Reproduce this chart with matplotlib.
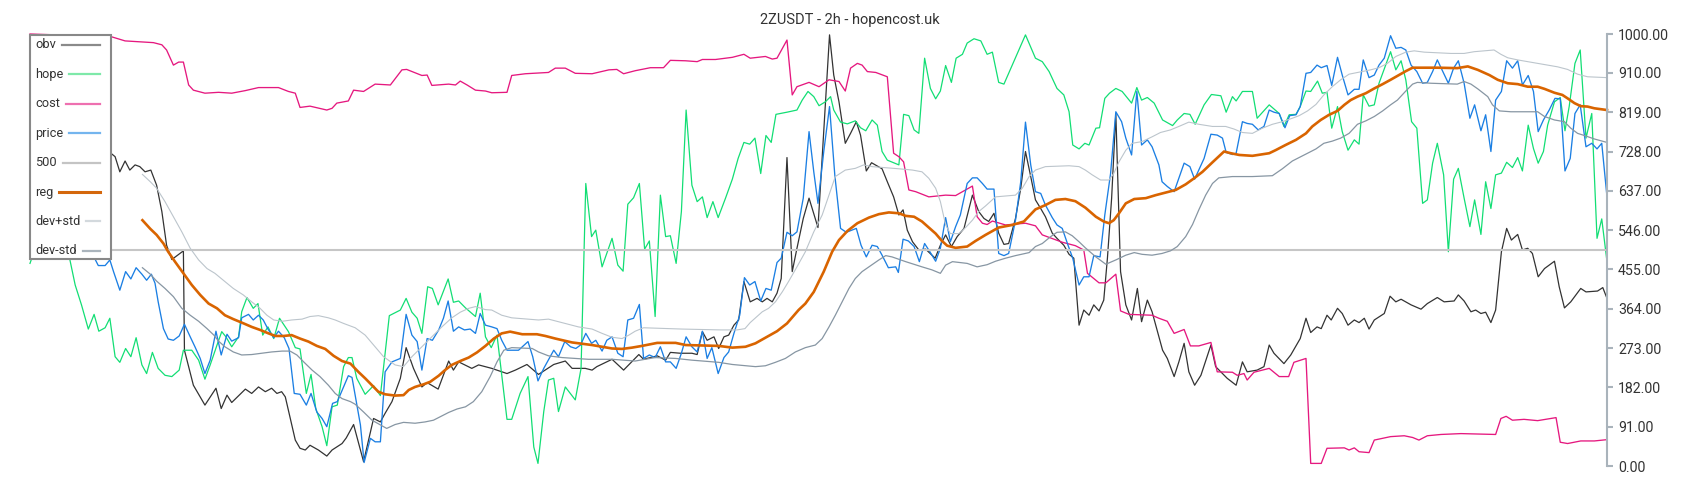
import matplotlib
matplotlib.use("Agg")
import matplotlib.pyplot as plt
from matplotlib.lines import Line2D
from matplotlib.patches import Rectangle

plt.rcParams['font.family'] = ['Roboto', 'DejaVu Sans']

# series as (bar index, normalised value 0..1000)
cost_pts = [(0,1000),(5,998),(10,997),(15.4,994),(18.1,984),(20.9,982),(23.5,980),(25.1,975),(26,963),(27.3,928),(28.3,935),(29.2,935),(30.2,882),(31.1,870),(33.3,863),(35.9,865),(38.4,863),(41,869),(43.5,876),(47.3,876),(49.2,867),(50.5,863),(51.4,830),(53.3,833),(56.5,824),(57.5,828),(58.4,840),(60.6,845),(61.6,870),(63.5,867),(65.7,884),(68.6,882),(70.8,917),(71.7,918),(74.6,904),(75.6,905),(76.5,881),(79.7,884),(81,882),(81.9,891),(83.2,882),(84.8,870),(86.7,868),(87.9,864),(90.8,865),(91.7,904),(94.3,908),(98.7,911),(100,921),(101.9,921),(103.8,909),(107,908),(110.2,917),(111.7,918),(113,908),(115.2,915),(118.1,922),(120.6,922),(121.9,939),(124.8,938),(127,936),(128,941),(130.5,941),(133.7,946),(135.9,953),(137.1,944),(140,948),(141.3,942),(142.2,944),(144.1,986),(145.1,859),(146,878),(148.3,888),(150.2,878),(152.1,894),(154,890),(155.2,868),(156.2,921),(157.5,932),(158.4,928),(159.4,913),(161,911),(163.2,901),(164.4,724),(165.4,716),(166.3,704),(167.3,639),(168.6,635),(171.1,623),(174.3,627),(176.2,626),(178.1,639),(179.4,648),(180.3,577),(181.3,562),(182.2,559),(183.2,567),(185.7,558),(189.5,562),(191.4,556),(192.7,535),(196.5,518),(199,510),(200.6,500),(201.3,446),(203.5,424),(204.8,424),(206.7,444),(207.6,359),(209.2,351),(213.6,349),(214.9,342),(216.5,335),(217.8,307),(219.7,316),(220.9,278),(222.5,278),(224.8,286),(226,218),(228.9,217),(229.8,210),(231.1,214),(231.7,199),(233,217),(235.9,226),(237.8,207),(239.6,207),(240.6,240),(242.9,249),(243.8,6),(245.8,6),(246.9,41),(250.2,42),(251.1,37),(252.1,42),(253,33),(254.9,31),(255.9,60),(259,68),(261.6,70),(263.2,66),(264.4,60),(266,70),(268.6,73),(272.4,75),(279,73),(280,110),(281,115),(282.2,106),(284.4,108),(287,105),(290.5,112),(291.3,55),(292.7,52),(295.2,58),(297.8,58),(300.2,61)]

obv_pts = [(0,755),(2,740),(4,762),(6,745),(8,752),(10,735),(12,742),(14,728),(15.4,724),(16.2,716),(17.1,681),(18.1,706),(19,685),(20,697),(20.9,693),(21.9,681),(23,685),(24.1,650),(25.1,589),(26,511),(27,478),(29.2,498),(29.4,268),(31.1,187),(33.3,141),(35.4,180),(36.4,133),(37.5,164),(38.4,147),(41,178),(42.2,168),(43.5,183),(44.8,172),(46,180),(47,168),(47.9,172),(48.6,160),(50.5,60),(51.4,41),(52.4,37),(53.3,48),(54.9,37),(56.5,23),(57.5,37),(59.4,52),(60.2,65),(61.6,96),(63.5,10),(65.4,110),(66.7,102),(67.6,122),(68.9,149),(70.5,203),(71.6,274),(73,226),(74.6,183),(75.6,193),(77.7,178),(79.7,243),(80.6,222),(81.6,241),(84.1,226),(85.4,234),(87.9,226),(90.8,214),(92.4,222),(94.6,235),(96.8,212),(99.7,235),(101.9,243),(103.2,226),(105.7,226),(107,222),(107.9,230),(110.8,247),(113,222),(115.9,258),(116.8,247),(119.4,255),(121,245),(121.9,263),(123.8,261),(126,261),(127,258),(128,311),(128.9,291),(130.2,299),(131.1,272),(132.1,299),(133,303),(134,326),(134.9,338),(135.9,427),(137.1,380),(138.4,388),(139.4,380),(140.3,388),(141.3,380),(142.2,400),(143,434),(144.1,714),(145.1,450),(146,504),(147.2,573),(148.3,620),(150,552),(152.2,998),(153,905),(154,843),(155.2,747),(156.2,770),(157.3,797),(158.1,766),(159.2,683),(160.2,702),(162.2,688),(163.2,658),(164.4,623),(165.4,581),(166.2,593),(167,546),(168,519),(169.2,500),(170.5,502),(171.7,488),(172.3,481),(173.3,511),(174.3,535),(175.4,508),(176.5,531),(177.8,550),(179.4,627),(180.6,589),(181.6,573),(182.5,566),(183.5,585),(184.4,539),(185.4,513),(186.3,515),(187.6,573),(188.6,643),(189.5,728),(190.5,670),(191.4,616),(192.4,596),(193.3,577),(194.6,539),(195.5,527),(196.8,511),(197.8,490),(198.7,481),(199.7,326),(200.6,361),(201.6,349),(202.5,373),(203.5,359),(204.4,384),(205.1,481),(205.9,620),(206.7,816),(207.6,450),(208.6,373),(209.7,338),(210.8,411),(211.6,334),(212.7,384),(213.6,357),(215.6,268),(216.5,249),(217.8,207),(218.7,241),(219.7,284),(220.6,218),(221.7,187),(222.9,210),(224.8,280),(225.7,230),(227,214),(227.9,203),(229.6,187),(230.8,241),(231.7,218),(233.6,222),(234.9,230),(235.9,280),(236.8,261),(238.7,237),(240,257),(241.8,295),(242.9,342),(243.8,309),(245,322),(245.8,318),(246.9,349),(247.7,338),(248.9,365),(249.8,353),(250.9,326),(252.1,338),(253,332),(254,342),(254.9,317),(255.9,338),(257.8,353),(258.9,393),(260,380),(261,386),(262.9,373),(264.8,363),(266,376),(267.9,390),(269.2,380),(271.1,382),(271.9,396),(273,382),(274.3,357),(275.2,361),(276.2,353),(277.1,356),(278.1,332),(279,361),(280.1,496),(281.1,550),(282,523),(283.2,536),(284.1,500),(285.1,504),(286,492),(287.1,438),(288.3,457),(290.2,474),(291.1,415),(292.1,366),(293.3,380),(295.2,411),(296.2,403),(298.4,405),(299.4,413),(300.2,388)]

hope_pts = [(0,469),(2,540),(4,600),(6,560),(7.6,477),(8.6,419),(9.8,373),(11.1,317),(12.2,351),(13.1,312),(14.3,320),(15.2,342),(16.2,253),(17.1,240),(18.2,272),(19.2,253),(20.2,297),(21.3,234),(22.2,214),(23.3,263),(24.4,226),(25.7,210),(27,207),(28.4,222),(29.2,268),(30.8,268),(32.1,245),(33.3,201),(34.3,234),(35.6,280),(36.5,311),(37.3,299),(38.4,276),(39.7,299),(40.3,357),(41.3,390),(42.5,365),(43.4,376),(44.3,303),(45.3,322),(46.4,295),(47.5,342),(49.2,311),(50.5,274),(51.4,271),(52.6,168),(53.5,212),(54.4,133),(55.6,91),(56.5,47),(57.5,137),(58.5,141),(59.7,230),(60.6,251),(61.3,251),(62.2,203),(63.8,166),(65.4,186),(66.7,163),(68.4,348),(70.5,361),(71.6,388),(72.7,356),(73.7,342),(74.6,307),(75.7,415),(76.6,411),(77.7,373),(79.6,433),(80.6,379),(81.6,382),(82.9,366),(84.8,346),(85.7,400),(86.7,299),(87.8,274),(88.9,303),(90.8,108),(91.7,108),(93.3,168),(94.8,207),(95.9,44),(96.7,6),(97.8,126),(98.7,199),(99.7,203),(100.6,126),(101.9,183),(103.8,153),(104.9,226),(105.8,654),(106.9,531),(107.7,546),(108.9,461),(110.8,527),(111.9,465),(112.9,451),(113.8,606),(114.9,621),(116,654),(117,502),(117.9,521),(119,346),(120,627),(121,531),(121.9,533),(123,469),(124,589),(124.9,824),(126,650),(127,612),(128,623),(128.9,575),(130,612),(131,575),(132.4,620),(133.7,664),(134.8,712),(135.9,749),(137,745),(138,759),(139.1,677),(140.1,765),(141.1,749),(142,814),(144.1,819),(146,824),(147,847),(148.1,867),(149.2,855),(150.2,834),(151.4,843),(152.4,855),(153,824),(154.3,796),(155.6,792),(157.1,799),(158.1,783),(159.1,776),(160.3,801),(161.3,789),(162.2,728),(163.2,708),(165.4,697),(166.3,814),(167.3,811),(168.3,778),(169.2,770),(170.3,944),(171.4,874),(172.4,850),(173.3,868),(174.3,927),(175.4,888),(176.3,944),(177.5,953),(178.4,979),(179.7,989),(181,984),(182.2,953),(183.2,958),(184.4,888),(185.4,884),(189.5,998),(191.4,944),(192.7,936),(194,913),(195.5,874),(196.8,859),(197.8,820),(198.5,743),(199.7,734),(200.8,747),(201.6,743),(202.9,782),(203.6,783),(204.6,851),(205.5,863),(206.7,874),(207.9,867),(209.7,840),(210.7,876),(211.6,847),(212.7,853),(214,840),(215.6,801),(217.5,788),(218.4,801),(219.7,816),(220.8,814),(221.8,791),(223.5,836),(224.9,860),(226.7,857),(227.7,819),(228.9,855),(229.6,845),(230.8,867),(232.7,867),(233.6,805),(235.9,836),(237.8,816),(238.7,786),(239.7,813),(241,814),(241.8,832),(242.9,868),(243.8,867),(245.1,891),(246,863),(246.9,865),(247.8,782),(248.9,832),(249.8,774),(250.9,731),(252.1,755),(253,745),(253.8,859),(254.9,833),(255.9,836),(256.8,886),(259,959),(260,917),(261,938),(261.9,894),(263,797),(264,782),(265.1,608),(266,616),(267,701),(267.9,747),(269.1,674),(270,496),(271,664),(271.9,689),(273,620),(274.1,554),(275,616),(276.2,536),(277.1,658),(278.1,596),(279,674),(280.1,678),(281.1,703),(282.2,691),(283.2,714),(284.1,683),(285.2,789),(286.2,735),(287.1,701),(288.1,728),(288.9,789),(290.2,843),(291.3,853),(292.2,776),(293,832),(294.1,932),(295.1,963),(296.2,759),(297.3,816),(298.3,527),(299.2,572),(300.2,473)]

price_pts = [(0,530),(3,555),(6,520),(9,545),(11,500),(12,488),(13,464),(14.3,464),(15.2,477),(15.9,450),(17.1,407),(18.2,450),(19.2,433),(20.2,459),(21.3,444),(22.2,430),(23.1,444),(23.8,423),(24.4,380),(25.4,318),(26.3,294),(27.3,291),(28.4,301),(29.4,328),(30.5,299),(31.4,276),(32.4,249),(33.3,214),(34.3,245),(35.4,312),(36.4,257),(37.5,305),(38.4,289),(39.7,297),(40.3,343),(41.6,351),(42.5,338),(43.5,349),(44.4,338),(45.3,317),(46.4,297),(47.3,312),(48.4,297),(49.3,272),(50.3,168),(51.4,166),(52.6,141),(53.5,168),(54.6,125),(55.6,110),(56.5,91),(57.6,145),(58.5,149),(59.7,183),(60.6,209),(61.3,205),(62.9,95),(63.6,8),(64.8,64),(65.7,56),(66.7,56),(67.6,218),(68.9,241),(70.5,249),(71.6,351),(72.7,303),(73.7,288),(74.6,222),(75.6,295),(76.6,291),(77.8,315),(78.7,342),(79.6,382),(80.6,312),(81.6,322),(82.7,315),(83.8,317),(84.8,307),(85.7,353),(86.7,326),(87.9,322),(88.9,318),(89.8,291),(90.8,268),(93,268),(94.8,288),(95.7,253),(96.7,197),(97.8,226),(99.7,268),(100.6,253),(101.8,288),(102.9,276),(103.9,272),(104.8,280),(105.8,307),(106.9,284),(107.7,291),(108.9,266),(109.8,291),(110.8,299),(111.9,261),(112.9,253),(113.8,338),(114.9,342),(116,374),(116.8,249),(117.9,257),(119,251),(120,276),(121,241),(121.9,241),(123,226),(124,261),(124.9,299),(126,276),(127,264),(128,312),(128.9,249),(129.8,274),(131,214),(132.1,251),(133,264),(134,307),(135.1,349),(136,436),(137,419),(138,427),(139.1,382),(140.1,411),(141.1,407),(142.2,471),(143,481),(144.1,541),(145.1,533),(146,542),(147.2,620),(148.3,774),(149.2,681),(150,608),(151.1,728),(152.2,832),(153.2,674),(154.3,550),(155.4,541),(157.3,550),(158.2,511),(159.2,484),(160.3,511),(161.3,508),(162.2,488),(163.4,459),(164.8,461),(165.3,448),(166.2,525),(167.2,521),(168.3,508),(169.3,473),(170.3,515),(171.3,496),(172.4,474),(173.3,504),(174.3,575),(175.2,519),(176.2,554),(177.1,581),(178.4,654),(179.4,667),(180.3,667),(181.3,654),(182.2,641),(183.5,641),(184.4,492),(185.4,487),(186.3,492),(187.6,569),(188.6,658),(189.5,796),(190.5,697),(191.4,635),(192.4,631),(193.3,604),(194.6,575),(195.5,558),(196.5,550),(197.6,511),(198.5,481),(199.7,419),(200.6,438),(201.6,438),(202.5,487),(203.7,484),(204.6,581),(205.7,677),(206.7,820),(207.8,797),(208.6,759),(209.7,720),(210.7,867),(211.6,743),(212.7,755),(213.6,739),(214.9,697),(215.5,658),(216.5,647),(217.8,635),(218.7,666),(219.7,701),(220.8,693),(221.7,664),(223.5,712),(224.8,768),(226,766),(227,759),(227.7,726),(228.9,721),(229.6,724),(230.8,797),(231.7,793),(232.7,791),(233.8,778),(234.9,786),(235.9,824),(236.8,819),(237.8,816),(238.9,783),(239.8,811),(241,813),(241.8,832),(242.9,909),(243.8,911),(245,928),(245.8,922),(246.9,927),(247.8,881),(248.9,946),(249.8,905),(250.9,859),(252.1,872),(253,872),(253.8,940),(254.9,899),(255.9,905),(256.8,928),(257.8,944),(259,996),(260,967),(261,969),(261.9,963),(262.9,928),(264,913),(265.1,886),(266,888),(267,913),(267.9,940),(269.1,909),(270,886),(271,921),(271.9,938),(273,886),(274.1,805),(275,836),(276.2,776),(277.1,813),(278.1,728),(279,847),(280.1,867),(281.1,938),(282.2,921),(283.2,938),(284.1,882),(285.2,904),(286.2,867),(287.1,774),(288.1,801),(289.2,824),(290.3,851),(291.3,850),(292.2,683),(293.2,712),(294.1,816),(295.1,836),(296.2,739),(297.3,747),(298.3,734),(299.2,747),(300.2,623)]

reg_pts = [(21.4,569),(22.9,549),(24.1,535),(25.4,515),(26.3,496),(27.6,473),(29.2,446),(30.8,419),(32.4,396),(34,376),(35.6,365),(37.1,349),(38.7,340),(40.3,332),(42.2,322),(43.8,315),(45.4,307),(46.7,301),(48.3,301),(49.8,303),(51.4,295),(53,288),(54.6,278),(56.2,271),(57.8,255),(59.4,243),(61,237),(62.5,218),(63.8,203),(65.1,187),(66.3,172),(67.6,166),(69.5,163),(71.1,164),(72.1,176),(73.3,183),(74.9,189),(76.2,195),(77.8,209),(79,222),(80.3,234),(81.9,243),(83.5,251),(85.1,263),(86.7,278),(88.3,295),(89.8,307),(91.4,311),(93.7,305),(96.5,305),(98.1,301),(100,295),(103.2,286),(107,280),(110.8,272),(112.7,271),(114.6,274),(116.5,278),(119.4,285),(122.9,285),(124.8,280),(131.1,278),(133.7,274),(136.2,276),(138.1,284),(140,297),(142.2,312),(144.1,330),(146.3,361),(147.6,376),(149.2,403),(151.1,450),(152.7,496),(154,523),(155.6,544),(157.5,562),(159.7,575),(161.6,583),(163.5,587),(165.4,585),(166.7,579),(168.3,577),(169.8,566),(171.1,552),(172.4,538),(173.6,521),(174.6,510),(176.2,505),(178.4,508),(180,521),(181.9,535),(184.4,552),(187,558),(189.2,566),(191.4,594),(193.3,604),(195.2,616),(197.1,618),(199,613),(200.9,598),(202.9,577),(204.4,566),(205.4,562),(206.3,569),(207.3,585),(208.6,608),(210.2,618),(212.4,620),(214.3,627),(216.2,633),(218.1,639),(220,652),(221.6,666),(223.2,681),(225.1,703),(227.3,728),(228.6,724),(230.2,720),(232.7,718),(235.9,724),(237.1,731),(239,743),(241,755),(242.9,770),(244.1,786),(245.7,801),(247.3,813),(248.9,822),(250.2,836),(251.4,847),(252.7,855),(254.3,863),(255.9,874),(257.5,884),(259,894),(260.6,905),(261.9,914),(263.2,922),(267.9,922),(271.7,921),(273.7,925),(275.6,917),(277.8,905),(279.4,894),(281.3,886),(283.2,884),(285.1,878),(287,878),(288.3,873),(290.2,864),(291.7,859),(292.7,851),(294,840),(295.2,833),(296.5,832),(297.8,828),(300.2,824)]

dev_plus_pts = [(21.4,675),(22.9,658),(24.1,643),(25.7,612),(27.3,577),(28.9,542),(30.5,504),(32.1,477),(33.7,457),(35.2,446),(37.1,427),(38.7,411),(40.6,396),(42.2,380),(43.8,365),(45.1,349),(46.4,338),(48,335),(49.8,338),(51.8,340),(53.3,346),(54.9,348),(56.8,343),(58.1,338),(59.7,330),(61.9,320),(63.8,303),(65.7,276),(67.3,253),(69.5,234),(71.1,230),(72.7,253),(74.6,276),(76.5,299),(78.4,322),(80.3,343),(81.9,356),(83.5,365),(84.8,369),(86.7,362),(87.9,361),(89.8,349),(91.7,343),(96.8,338),(98.7,340),(100.6,334),(102.5,328),(104.4,322),(107,317),(108.9,307),(110.8,298),(112.7,295),(114,303),(115.2,312),(116.8,320),(124.1,317),(131.5,315),(134.6,315),(136.1,318),(137.1,332),(138.1,343),(139.4,357),(140.6,365),(141.9,380),(143.2,403),(144.4,427),(146,461),(147.6,496),(149.2,542),(150.8,581),(152.1,627),(153.3,670),(155.2,685),(157.1,689),(158.7,697),(160.3,693),(165.4,688),(168,685),(169.8,681),(171.1,666),(172.4,643),(173.3,612),(174.3,558),(175.2,538),(176.8,538),(178.1,552),(179.4,569),(180.6,589),(181.9,602),(183.8,623),(187.6,627),(188.9,643),(190.2,670),(191.4,685),(193.3,693),(197.8,695),(199.7,693),(200.9,685),(202.2,674),(203.8,662),(205.4,662),(206.3,677),(207.3,704),(208.6,731),(209.8,747),(211.7,751),(213.6,762),(215.2,772),(217.1,778),(218.7,786),(220.6,796),(222.5,791),(225.1,786),(227.6,786),(229.2,780),(230.8,772),(232.7,770),(234.6,782),(236.5,791),(238.4,797),(240.3,805),(241.6,811),(243.2,822),(244.8,837),(246.3,859),(247.9,878),(249.5,894),(251.1,907),(252.7,911),(255.2,917),(256.8,922),(258.4,932),(260,948),(261.9,958),(263.5,961),(265.4,958),(270.5,955),(273,955),(274.9,959),(278.7,963),(280,953),(281.3,945),(283.2,940),(287,932),(290.8,924),(292.7,918),(294.6,907),(296.5,901),(300.2,899)]

dev_minus_pts = [(21.4,459),(22.9,444),(24.1,428),(25.7,411),(27.3,392),(28.9,365),(30.5,349),(32.1,335),(33.7,318),(35,303),(35.9,289),(37.1,276),(38.7,264),(40.3,257),(42.2,258),(44.1,261),(46,264),(48,266),(49.5,266),(50.8,257),(52.1,241),(53.7,222),(55.2,207),(56.8,187),(58.1,168),(59.4,156),(61,149),(61.9,143),(63.5,125),(65.1,106),(66.7,95),(67.9,87),(69.5,96),(71.1,101),(73.3,99),(75.2,102),(76.8,106),(78.4,116),(79.7,124),(81.3,132),(82.9,137),(84.4,149),(86,172),(87.6,207),(88.9,241),(90.2,268),(91.7,274),(95.6,272),(96.8,264),(98.7,255),(101.3,251),(106.3,247),(110.8,247),(115.2,243),(119,251),(122.9,249),(126,245),(131.1,240),(133.7,235),(138.1,230),(140,232),(141.9,240),(143.8,249),(145.7,264),(147.6,274),(149.5,280),(150.8,295),(152.1,322),(153.3,349),(154.6,380),(155.9,411),(157.1,434),(158.4,450),(159.7,461),(161.6,477),(162.9,487),(164.1,484),(166.7,473),(169.8,461),(171.7,454),(173.3,446),(174.3,465),(175.6,473),(178.4,469),(180.3,461),(182.2,466),(183.8,474),(185.7,481),(187.6,487),(190.2,494),(191.4,508),(192.7,515),(194.3,531),(195.5,541),(197.1,542),(198.4,533),(199.7,519),(200.9,505),(202.9,484),(204.8,467),(206.7,477),(208.6,488),(210.2,494),(211.7,490),(213.6,488),(215.5,492),(217.1,498),(218.4,508),(220,531),(221.3,559),(222.5,593),(223.8,627),(225.1,654),(226.3,667),(228.9,670),(232.7,670),(236.5,672),(238.4,688),(240.3,706),(241.6,714),(243.2,724),(244.8,734),(246.3,747),(247.9,752),(249.5,759),(251.1,770),(252.7,791),(254.3,799),(255.9,809),(257.5,822),(259,836),(260.3,847),(261.9,868),(263.2,884),(264.1,888),(266.7,886),(271.7,884),(273,890),(274.3,884),(275.6,873),(277.5,855),(278.4,836),(279.7,822),(281.9,820),(287,820),(288.3,809),(290.2,801),(292.1,797),(293.3,782),(294.6,770),(295.9,765),(297.8,757),(300.2,749)]

level_500 = 500
last_bar = 300.2
tick_vals = [0, 91, 182, 273, 364, 455, 546, 637, 728, 819, 910, 1000]
title = "2ZUSDT - 2h - hopencost.uk"

# name, points, line colour, line width, legend swatch colour
series = [
    ("obv", obv_pts, "#333333", 0.9, "#8a8a8a"),
    ("hope", hope_pts, "#12de74", 0.9, "#7ee9a9"),
    ("cost", cost_pts, "#e5187f", 0.95, "#ee70b0"),
    ("price", price_pts, "#1b7fe3", 0.95, "#74b5ee"),
    ("reg", reg_pts, "#d96400", 1.9, "#d4670c"),
    ("dev+std", dev_plus_pts, "#bcc5cc", 0.8, "#d3d9dd"),
    ("dev-std", dev_minus_pts, "#8796a3", 0.9, "#aab4bc"),
]

W, H = 1700, 500
fig = plt.figure(figsize=(17, 5), dpi=100)
ax = fig.add_axes([30/W, 34/H, 1577/W, 432/H])

for name, pts, col, lw, _ in series[:4]:
    xs = [p[0] for p in pts]
    ys = [p[1] for p in pts]
    ax.plot(xs, ys, color=col, lw=lw, clip_on=False)

ax.plot([0, last_bar], [level_500, level_500], color="#c6c6c6", lw=1.5)

for name, pts, col, lw, _ in series[4:]:
    xs = [p[0] for p in pts]
    ys = [p[1] for p in pts]
    ax.plot(xs, ys, color=col, lw=lw, clip_on=False)

ax.set_xlim(0, last_bar)
ax.set_ylim(0, 1000)
ax.yaxis.tick_right()
ax.set_yticks(tick_vals)
ax.set_yticklabels(["%.2f" % v for v in tick_vals])
ax.set_xticks([])
for s in ["left", "top", "bottom"]:
    ax.spines[s].set_visible(False)
ax.spines["right"].set_color("#a9b3bb")
ax.spines["right"].set_linewidth(1.5)
ax.tick_params(axis="y", direction="out", length=4, width=1.5, color="#a9b3bb",
               labelcolor="#333333", labelsize=10.2, pad=4)

# legend box drawn by hand: label left, swatch stretching to the right edge
leg_order = ["obv", "hope", "cost", "price", "500", "reg", "dev+std", "dev-std"]
leg_cols = {s[0]: s[4] for s in series}
leg_cols["500"] = "#c4c4c4"

box = Rectangle((30/W, 1 - 259/H), 81/W, 224/H, transform=fig.transFigure,
                facecolor="white", edgecolor="#888888", lw=1.5, zorder=10)
fig.add_artist(box)
renderer = fig.canvas.get_renderer()
row_y = 45
for lab in leg_order:
    t = fig.text(35/W, 1 - row_y/H, lab, ha="left", va="center", fontsize=9.2,
                 color="#333333", zorder=11)
    x_end = t.get_window_extent(renderer).x1
    lw = 2.2 if lab == "reg" else 1.6
    fig.add_artist(Line2D([(x_end + 6)/W, 100/W], [1 - row_y/H, 1 - row_y/H],
                          transform=fig.transFigure, color=leg_cols[lab], lw=lw, zorder=11))
    row_y += 29.4

fig.text(0.5, 1 - 20/H, title, ha="center", va="center", fontsize=10.5, color="#333333")

fig.savefig("out.png", dpi=100)
